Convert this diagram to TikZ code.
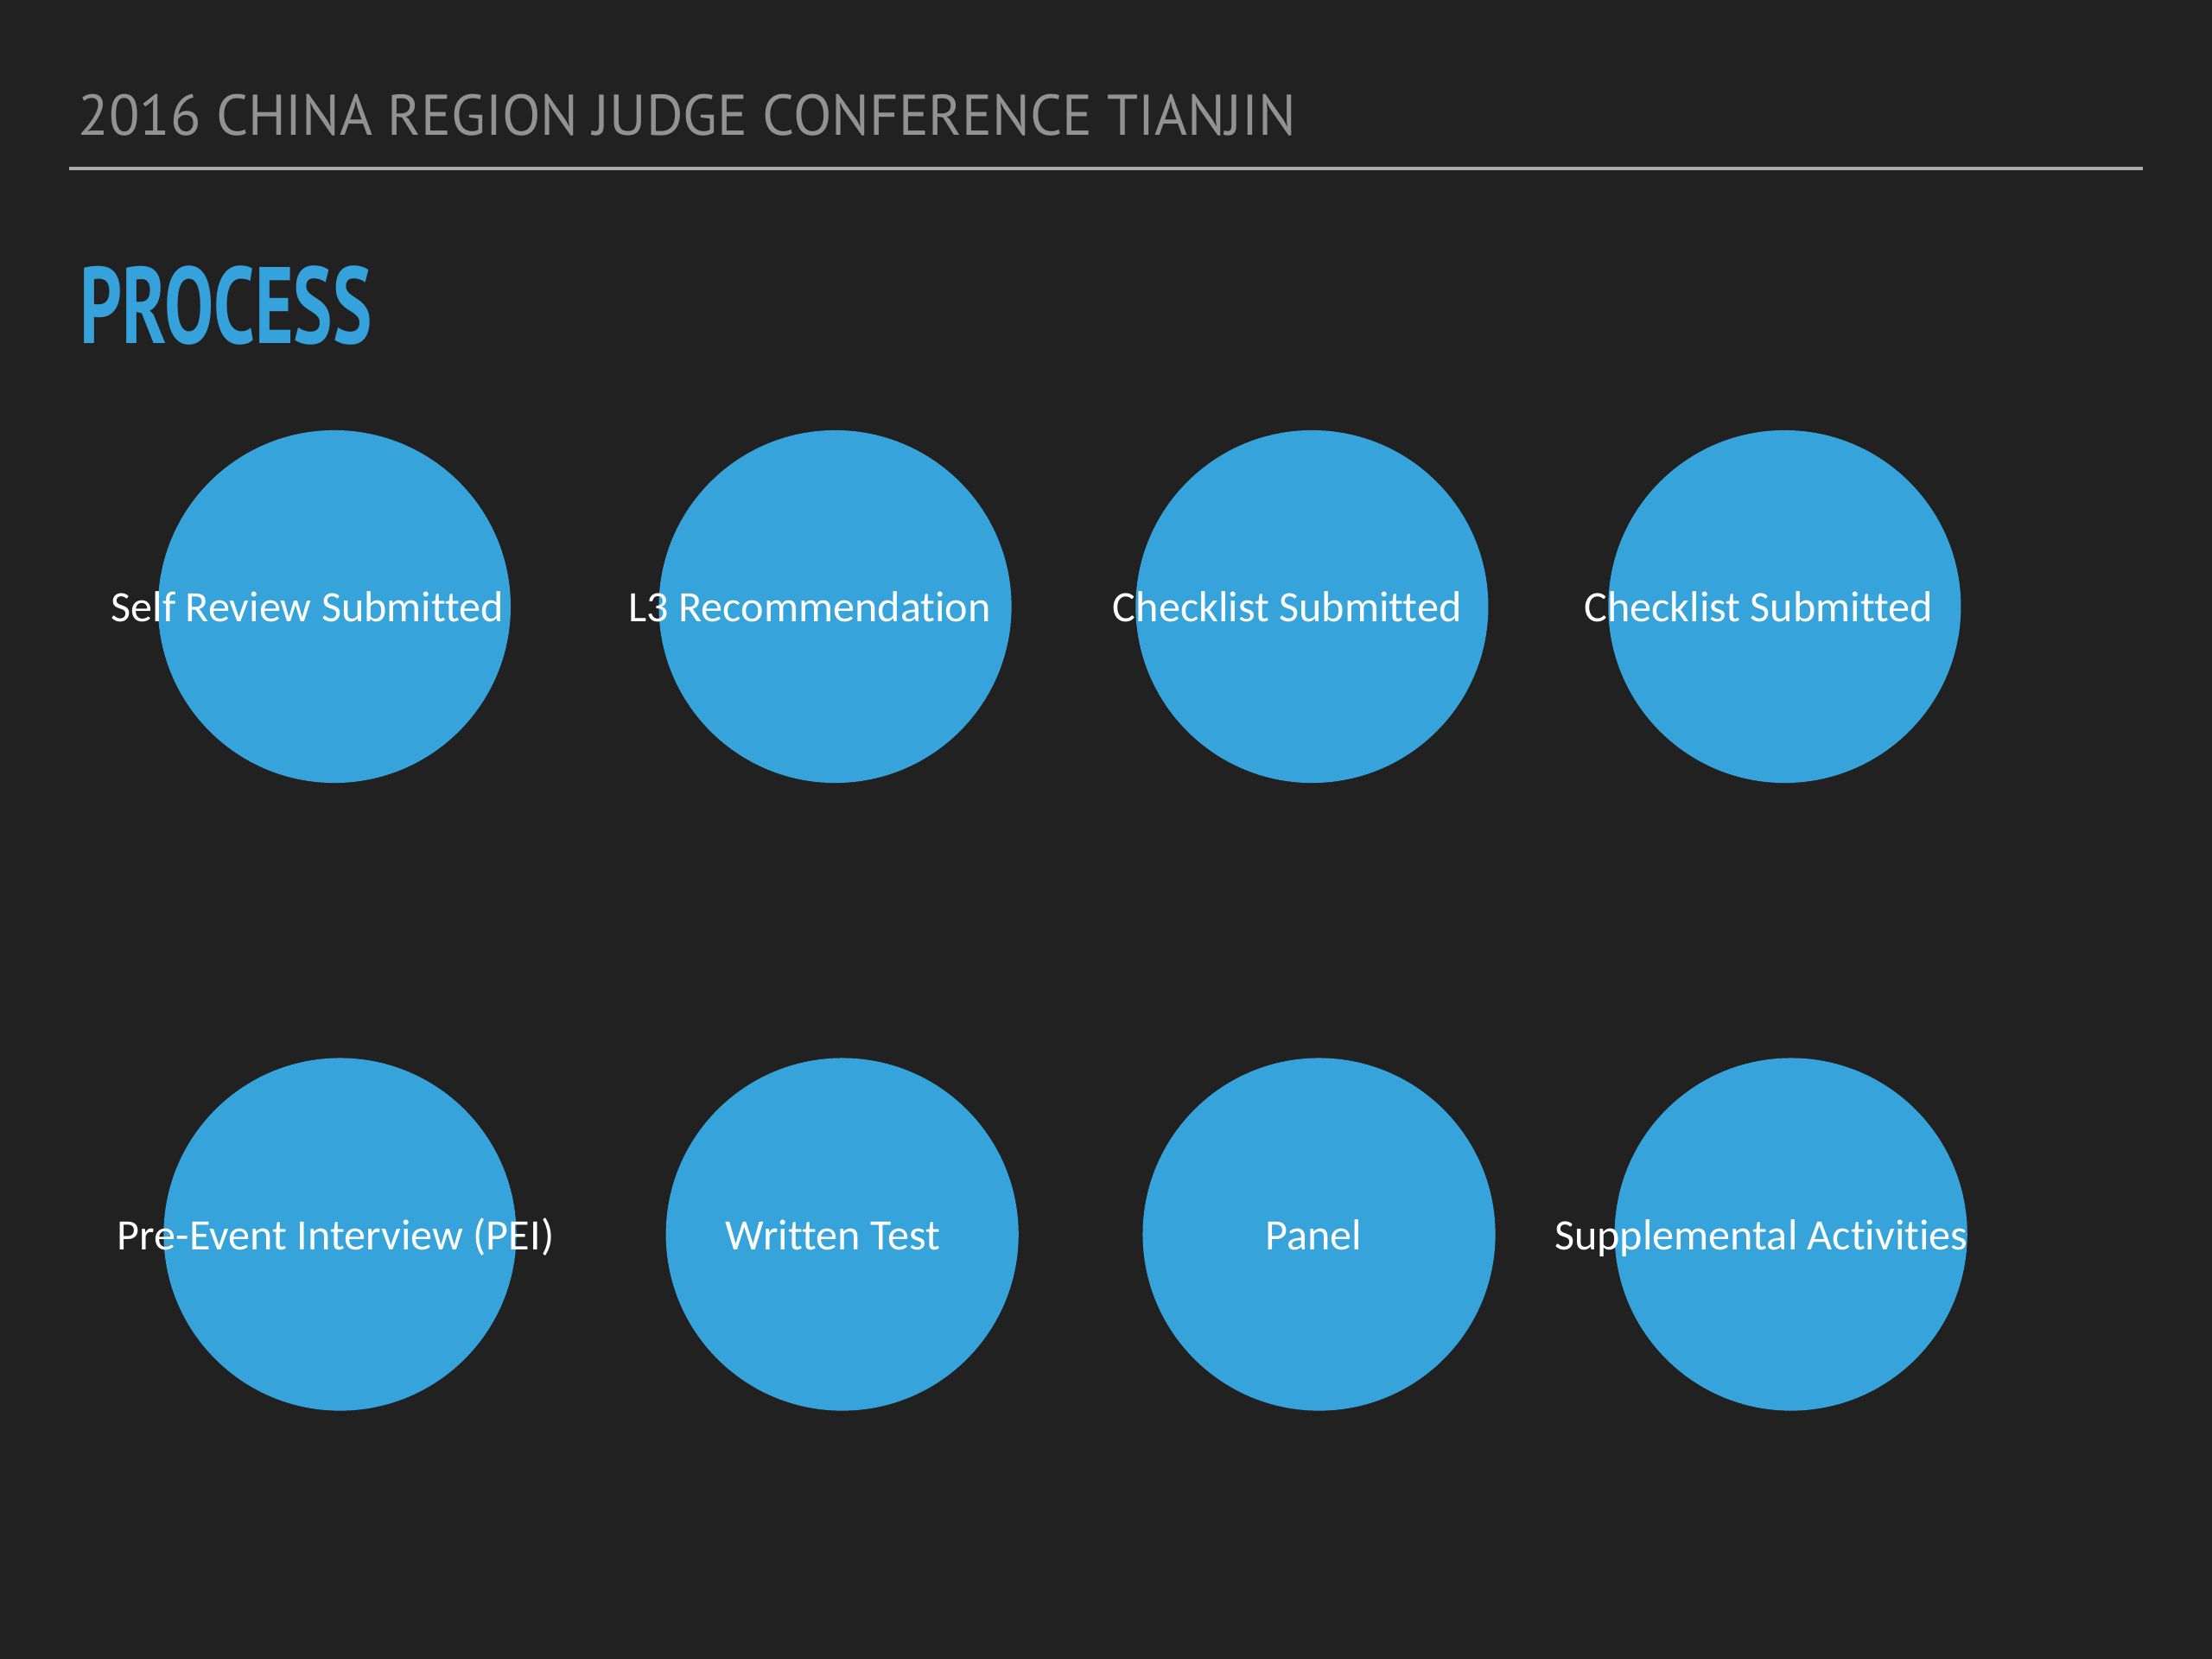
\documentclass[tikz,border=0pt]{standalone}
\usepackage{fontspec}
\setmainfont{Carlito}[Ligatures=NoCommon]
\newfontfamily\headfont{PT Sans}
\newfontfamily\titlefont{PT Sans Bold}
\usetikzlibrary{positioning}
\usepackage{xcolor}
\definecolor{bgdark}{HTML}{212121}
\definecolor{headgray}{HTML}{929292}
\definecolor{rulegray}{HTML}{ABABAB}
\definecolor{titleblue}{HTML}{36A2DB}
\definecolor{stageblue}{HTML}{36A4DA}

\begin{document}
\begin{tikzpicture}[
  stage/.style = {circle, fill=stageblue, minimum size=2.5cm, inner sep=0pt},
  stagelabel/.style = {text=white, font=\fontsize{8.75}{10}\selectfont, inner sep=0pt, anchor=base},
  heading/.style = {anchor=south west, inner sep=0pt}
]

  % ======================================================
  % Slide background and header
  % ======================================================
  \fill[bgdark] (0,0) rectangle (15.68,11.76);
  \useasboundingbox (0,0) rectangle (15.68,11.76);

  \node[heading, text=headgray] (header) at (0.55,10.79)
    {\resizebox{8.63cm}{0.29cm}{\headfont 2016 CHINA REGION JUDGE CONFERENCE TIANJIN}};

  \coordinate (ruleL) at (0.49,10.565);
  \coordinate (ruleR) at (15.19,10.565);
  \draw[rulegray, line width=0.75pt] (ruleL) -- (ruleR);

  \node[heading, text=titleblue] (title) at (0.56,9.31)
    {\resizebox{2.07cm}{0.55cm}{\titlefont PROCESS}};

  % ======================================================
  % First row of stages
  % ======================================================
  \node[stage] (selfreview) at (2.37,7.46) {};
  \node[stage] (recommend)  at (5.92,7.46) {};
  \node[stage] (checkA)     at (9.30,7.46) {};
  \node[stage] (checkB)     at (12.65,7.46) {};

  \node[stagelabel] (selfreviewtxt) at (2.18,7.35) {Self Review Submitted};
  \node[stagelabel] (recommendtxt)  at (5.74,7.35) {L3 Recommendation};
  \node[stagelabel] (checkAtxt)     at (9.125,7.35) {Checklist Submitted};
  \node[stagelabel] (checkBtxt)     at (12.465,7.35) {Checklist Submitted};

  % ======================================================
  % Second row of stages
  % ======================================================
  \node[stage] (interview) at (2.41,3.01) {};
  \node[stage] (written)   at (5.97,3.01) {};
  \node[stage] (panel)     at (9.35,3.01) {};
  \node[stage] (extra)     at (12.695,3.01) {};

  \node[stagelabel] (interviewtxt) at (2.38,2.90) {Pre-Event Interview (PEI)};
  \node[stagelabel] (writtentxt)   at (5.905,2.90) {Written Test};
  \node[stagelabel] (paneltxt)     at (9.31,2.90) {Panel};
  \node[stagelabel] (extratxt)     at (12.485,2.90) {Supplemental Activities};

\end{tikzpicture}
\end{document}
